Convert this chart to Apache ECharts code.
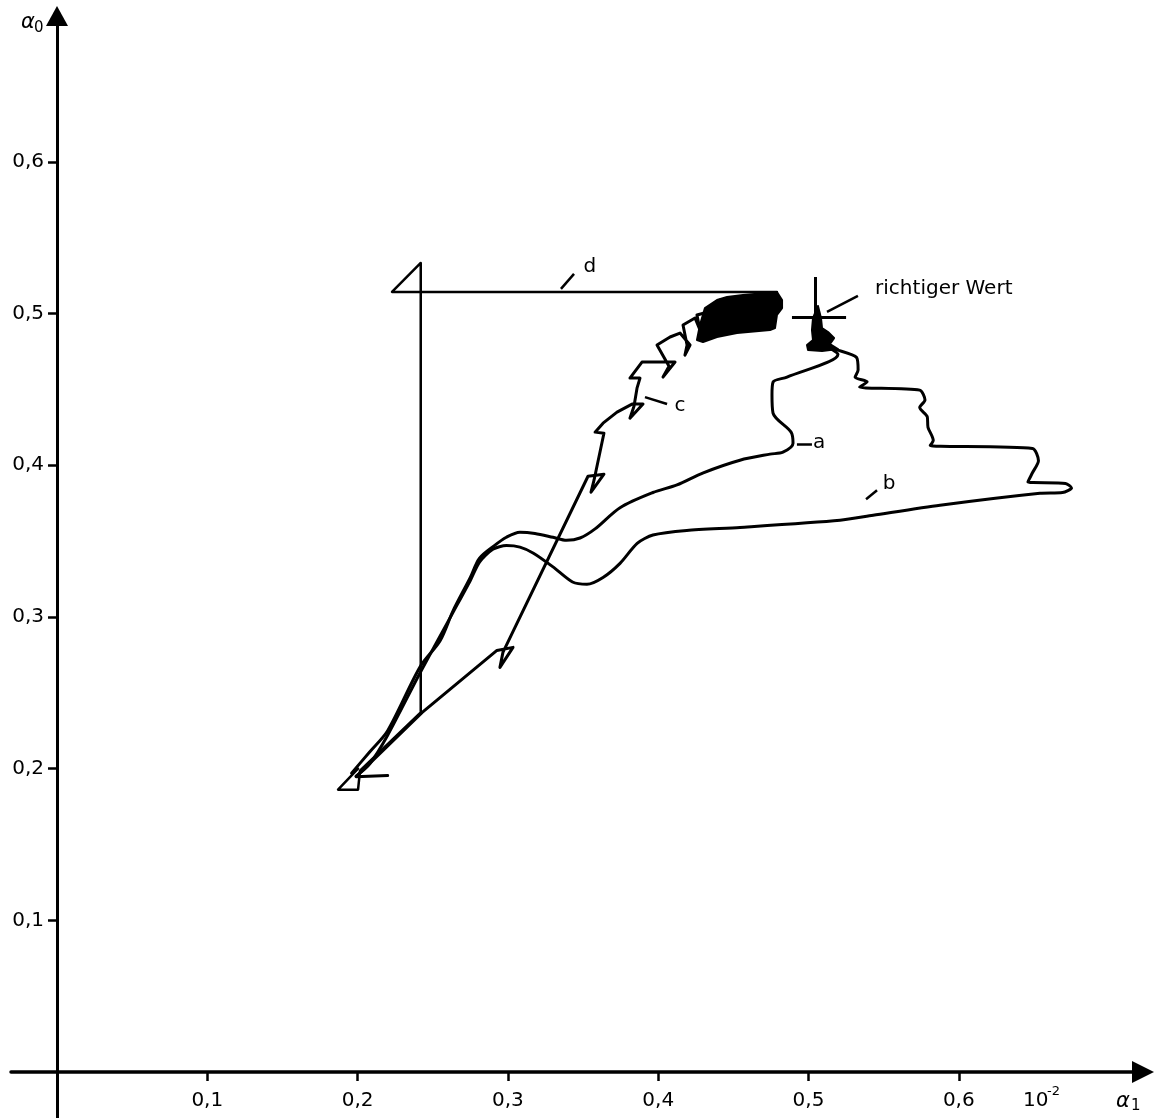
<!DOCTYPE html>
<html><head><meta charset="utf-8">
<script src="https://cdn.jsdelivr.net/npm/echarts@6/dist/echarts.min.js"></script>
<style>html,body{margin:0;padding:0;background:#fff}#c{width:1162px;height:1118px}</style>
</head><body><div id="c"></div>
<script>
// tick values (alpha1 in units of 1e-2, alpha0)
const xTicks = [0.1, 0.2, 0.3, 0.4, 0.5, 0.6];
const yTicks = [0.1, 0.2, 0.3, 0.4, 0.5, 0.6];
const xTickLabels = ['0,1', '0,2', '0,3', '0,4', '0,5', '0,6'];
const yTickLabels = ['0,1', '0,2', '0,3', '0,4', '0,5', '0,6'];

// estimate trajectories [alpha1, alpha0]
const curveA = [
  [0.196,0.197],[0.208,0.211],[0.220,0.225],[0.2415,0.267],[0.255,0.2845],[0.2635,0.304],
  [0.275,0.326],[0.281,0.3386],[0.291,0.347],[0.299,0.3525],[0.308,0.3558],[0.318,0.355],
  [0.330,0.3525],[0.339,0.3505],[0.348,0.352],[0.358,0.358],[0.3746,0.372],[0.3965,0.382],
  [0.4125,0.387],[0.430,0.395],[0.4544,0.4033],[0.4744,0.4073],[0.483,0.4086],[0.4897,0.4145],
  [0.4884,0.4218],[0.4764,0.4343],[0.4757,0.4462],[0.4764,0.4548],[0.4857,0.4581],
  [0.5196,0.473],[0.514,0.477],[0.502,0.479]
];
const curveB = [
  [0.199,0.195],[0.208,0.203],[0.220,0.222],[0.2415,0.263],[0.2635,0.303],[0.275,0.324],
  [0.281,0.336],[0.290,0.3446],[0.299,0.347],[0.308,0.346],[0.317,0.342],[0.330,0.333],
  [0.343,0.323],[0.3526,0.3215],[0.3633,0.326],[0.3746,0.3353],[0.386,0.3485],[0.3965,0.354],
  [0.419,0.357],[0.4544,0.359],[0.521,0.3637],[0.543,0.367],[0.5875,0.3736],[0.654,0.3815],
  [0.669,0.382],[0.675,0.385],[0.671,0.388],[0.646,0.389],[0.649,0.395],[0.653,0.403],
  [0.649,0.411],[0.581,0.413],[0.583,0.4165],[0.5795,0.425],[0.579,0.432],[0.574,0.438],
  [0.5775,0.443],[0.574,0.4495],[0.534,0.4515],[0.539,0.455],[0.531,0.458],[0.533,0.4627],
  [0.532,0.471],[0.519,0.476],[0.508,0.479]
];
const curveC = [
  [0.220,0.1954],[0.199,0.1947],[0.243,0.237],[0.2927,0.2779],[0.3034,0.2799],[0.2947,0.2667],
  [0.2967,0.2766],[0.3533,0.3927],[0.3639,0.3941],[0.3553,0.3822],[0.3573,0.3901],
  [0.3639,0.4211],[0.358,0.4218],[0.3633,0.4277],[0.3726,0.435],[0.3826,0.4403],[0.3899,0.4403],
  [0.3812,0.431],[0.3839,0.4389],[0.3859,0.4508],[0.3879,0.4574],[0.3812,0.4574],[0.3892,0.468],
  [0.4065,0.468],[0.4112,0.468],[0.4032,0.4581],[0.4072,0.4653],[0.3992,0.4792],[0.4079,0.4845],
  [0.4145,0.4871],[0.4212,0.4792],[0.4178,0.4726],[0.4192,0.4792],[0.4165,0.4924],[0.4245,0.497],
  [0.4278,0.4891],[0.4258,0.499],[0.4331,0.501],[0.4311,0.4944],[0.4358,0.5056],[0.4411,0.5089],
  [0.470,0.500]
];
const curveD = [
  [0.2003,0.200],[0.187,0.1861],[0.2003,0.1861],[0.2016,0.1987],[0.242,0.237],[0.242,0.5333],
  [0.2229,0.5142],[0.479,0.5142]
];
// densely oscillating (filled) regions
const blobC = [
  [0.4311,0.5036],[0.4391,0.5089],[0.4458,0.5109],[0.4564,0.5122],[0.479,0.5142],[0.4824,0.5089],
  [0.4824,0.5036],[0.479,0.499],[0.4777,0.4904],[0.4744,0.4891],[0.4524,0.4871],[0.4391,0.4845],
  [0.4298,0.4812],[0.4258,0.4825],[0.4278,0.4924]
];
const blobTrue = [
  [0.503,0.497],[0.5063,0.505],[0.5083,0.497],[0.509,0.4904],[0.513,0.4878],[0.517,0.4838],
  [0.5143,0.4799],[0.5196,0.4766],[0.509,0.4752],[0.4997,0.4759],[0.499,0.4792],[0.503,0.4825],
  [0.5023,0.4891]
];
// true value cross
const crossH = [[0.489,0.4977],[0.525,0.4977]];
const crossV = [[0.5043,0.5241],[0.5043,0.4772]];
// annotation labels and leader lines
const curveLabels = [
  {name:'a', value:[0.507,0.4145]},
  {name:'b', value:[0.5536,0.3875]},
  {name:'c', value:[0.4145,0.4393]},
  {name:'d', value:[0.3546,0.5307]}
];
const trueLabel = [{name:'richtiger Wert', value:[0.5443,0.5162]}];
const leaders = [
  [[0.4923,0.4139],[0.5023,0.4139]],
  [[0.5383,0.3776],[0.5456,0.3835]],
  [[0.3912,0.4449],[0.4059,0.4403]],
  [[0.3353,0.5162],[0.344,0.5261]],
  [[0.5123,0.501],[0.5329,0.5116]]
];

const FONT = 'DejaVu Sans';
const chart = echarts.init(document.getElementById('c'), null, {renderer:'canvas'});

function lineSeries(data, w, smooth) {
  return {type:'line', data:data, symbol:'none', showSymbol:false, smooth:smooth,
    lineStyle:{color:'#000', width:w, join:'round', cap:'round'}, z:3, animation:false};
}
function polySeries(points) {
  return {type:'custom', coordinateSystem:'cartesian2d', data:[points[0]], clip:false, z:4,
    renderItem:function(params, api){
      return {type:'polygon', shape:{points: points.map(p => api.coord(p))},
        style:{fill:'#000', stroke:'#000', lineWidth:2, lineJoin:'round'}};
    }};
}
function textSeries(data, position, distance) {
  return {type:'scatter', data:data, symbolSize:0, itemStyle:{color:'#000', opacity:1}, z:6, silent:true,
    label:{show:true, position:position, distance:distance, formatter:'{b}', color:'#000', opacity:1,
      textBorderWidth:0, fontSize:20, fontFamily:FONT}};
}
// tick labels placed at their axis values via the library's scale
const xLabelData = xTicks.map((v, i) => ({name:xTickLabels[i], value:[v, 0]}));
const yLabelData = yTicks.map((v, i) => ({name:yTickLabels[i], value:[0, v]}));

chart.setOption({
  animation:false,
  backgroundColor:'#fff',
  grid:{left:11, right:19, top:16, bottom:0, containLabel:false, outerBoundsMode:'none'},
  xAxis:{type:'value', min:-0.030605, max:0.722555,
    axisLine:{onZero:true, symbol:['none','triangle'], symbolSize:[22,22],
      lineStyle:{color:'#000', width:3.5}},
    axisTick:{show:true, customValues:xTicks, length:9, lineStyle:{color:'#000', width:2.5}},
    axisLabel:{show:false},
    splitLine:{show:false}},
  yAxis:{type:'value', min:-0.030323, max:0.69611,
    axisLine:{onZero:true, symbol:['none','triangle'], symbolSize:[22,20],
      lineStyle:{color:'#000', width:3}},
    axisTick:{show:true, customValues:yTicks, length:9, lineStyle:{color:'#000', width:2.5}},
    axisLabel:{show:false},
    splitLine:{show:false}},
  graphic:[
    {type:'text', x:21, y:23, style:{text:'α', font:'italic 21px "DejaVu Sans"', fill:'#000', verticalAlign:'middle', align:'left'}},
    {type:'text', x:34, y:28, style:{text:'0', font:'15px "DejaVu Sans"', fill:'#000', verticalAlign:'middle', align:'left'}},
    {type:'text', x:1116, y:1102, style:{text:'α', font:'italic 21px "DejaVu Sans"', fill:'#000', verticalAlign:'middle', align:'left'}},
    {type:'text', x:1131, y:1106, style:{text:'1', font:'15px "DejaVu Sans"', fill:'#000', verticalAlign:'middle', align:'left'}},
    {type:'text', x:1023, y:1101, style:{text:'10', font:'20px "DejaVu Sans"', fill:'#000', verticalAlign:'middle', align:'left'}},
    {type:'text', x:1047, y:1092, style:{text:'-2', font:'13px "DejaVu Sans"', fill:'#000', verticalAlign:'middle', align:'left'}}
  ],
  series:[
    lineSeries(curveA, 3, 0.3),
    lineSeries(curveB, 3, 0.25),
    lineSeries(curveC, 3, false),
    lineSeries(curveD, 2.5, false),
    polySeries(blobC),
    polySeries(blobTrue),
    {type:'lines', coordinateSystem:'cartesian2d', polyline:false, z:5,
      data:[{coords:crossH},{coords:crossV}],
      lineStyle:{color:'#000', width:3, opacity:1, curveness:0}},
    {type:'lines', coordinateSystem:'cartesian2d', polyline:false, z:5,
      data:leaders.map(c => ({coords:c})),
      lineStyle:{color:'#000', width:2.5, opacity:1, curveness:0}},
    textSeries(curveLabels, 'inside', 0),
    textSeries(trueLabel, 'right', 0),
    textSeries(xLabelData, 'bottom', 19),
    textSeries(yLabelData, 'left', 13)
  ]
});
</script>
</body></html>
